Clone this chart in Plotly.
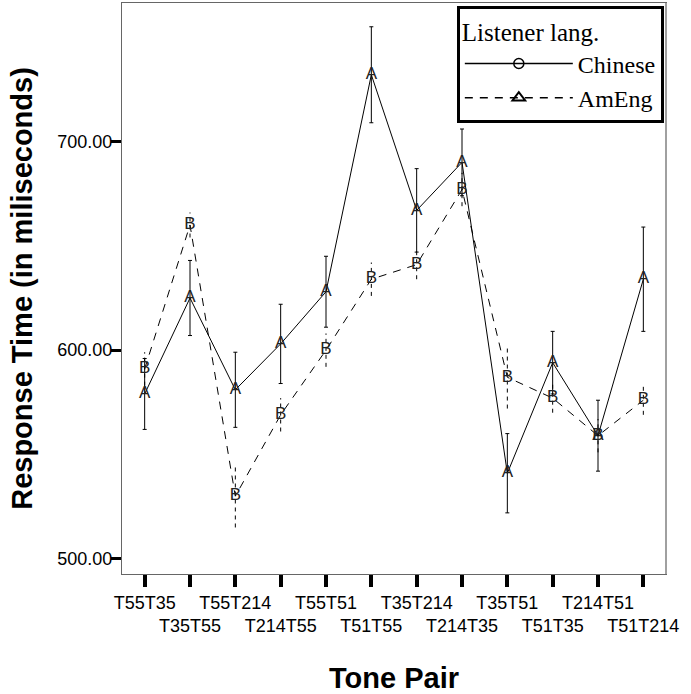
import plotly.graph_objects as go

categories = ["T55T35", "T35T55", "T55T214", "T214T55", "T55T51", "T51T55",
              "T35T214", "T214T35", "T35T51", "T51T35", "T214T51", "T51T214"]
chinese_mean = [579, 625, 581, 603, 628, 732, 667, 690, 541, 594, 559, 634]
chinese_ci = [17, 18, 18, 19, 17, 23, 20, 16, 19, 15, 17, 25]
ameng_mean = [591, 660, 530, 569, 600, 634, 641, 677, 587, 577, 559, 576]
ameng_ci = [8, 6, 15, 8, 8, 8, 7, 8, 15, 7, 8, 7]
y_tick_vals = [500, 600, 700]
y_tick_text = ["500.00", "600.00", "700.00"]
series_names = ["Chinese", "AmEng"]
series_letters = ["A", "B"]
legend_title = "Listener lang."
x_title = "Tone Pair"
y_title = "Response Time (in miliseconds)"

SANS = "Arial, Liberation Sans, sans-serif"
SERIF = "Times New Roman, Liberation Serif, serif"

# two-row tick labels: odd categories on second line
tick_text = [c if i % 2 == 0 else "<br>" + c for i, c in enumerate(categories)]

fig = go.Figure()

# Chinese: solid line, solid error bars, letter A
fig.add_trace(go.Scatter(
    x=categories, y=chinese_mean, mode="lines+text",
    text=[series_letters[0]] * len(categories), textposition="middle center",
    textfont=dict(family=SANS, size=17, color="#222"),
    line=dict(color="black", width=1),
    error_y=dict(type="data", array=chinese_ci, visible=True,
                 color="black", thickness=1, width=2),
    showlegend=False, cliponaxis=False))

# AmEng error bars as dashed segments
ex, ey = [], []
for c, m, e in zip(categories, ameng_mean, ameng_ci):
    ex += [c, c, None]
    ey += [m - e, m + e, None]
fig.add_trace(go.Scatter(x=ex, y=ey, mode="lines",
                         line=dict(color="black", width=1, dash="4px,4px"),
                         showlegend=False, hoverinfo="skip"))

# AmEng: dashed line, letter B
fig.add_trace(go.Scatter(
    x=categories, y=ameng_mean, mode="lines+text",
    text=[series_letters[1]] * len(categories), textposition="middle center",
    textfont=dict(family=SANS, size=17, color="#222"),
    line=dict(color="black", width=1, dash="8px,7px"),
    showlegend=False, cliponaxis=False))

# legend-only entries
fig.add_trace(go.Scatter(x=[None], y=[None], mode="lines+markers", name=series_names[0],
                         line=dict(color="black", width=1.5),
                         marker=dict(symbol="circle-open", size=10, color="black",
                                     line=dict(width=1.5))))
fig.add_trace(go.Scatter(x=[None], y=[None], mode="lines+markers", name=series_names[1],
                         line=dict(color="black", width=1.5, dash="8px,7px"),
                         marker=dict(symbol="triangle-up-open", size=11, color="black",
                                     line=dict(width=2))))

fig.update_layout(
    width=691, height=694,
    margin=dict(l=122, r=25, t=3, b=120, autoexpand=False),
    paper_bgcolor="white", plot_bgcolor="white",
    font=dict(family=SANS, color="black"),
    showlegend=True,
    legend=dict(
        title=dict(text=legend_title, font=dict(family=SERIF, size=25, color="black")),
        font=dict(family=SERIF, size=24, color="black"),
        x=0.996, y=0.995, xanchor="right", yanchor="top",
        bgcolor="white", bordercolor="black", borderwidth=3,
        itemwidth=108, tracegroupgap=0,
    ),
    xaxis=dict(
        type="category", categoryorder="array", categoryarray=categories,
        range=[-0.5, len(categories) - 0.5],
        tickvals=categories, ticktext=tick_text, tickangle=0,
        tickfont=dict(family=SANS, size=18, color="black"),
        ticks="outside", ticklen=12, tickwidth=3.5, tickcolor="black",
        showline=True, linecolor="#666", linewidth=1, mirror=True,
        showgrid=False, zeroline=False, automargin=False,
        title=dict(text="<b>" + x_title + "</b>", font=dict(family=SANS, size=29, color="black"),
                   standoff=34),
    ),
    yaxis=dict(
        range=[492.7, 766.4],
        tickvals=y_tick_vals, ticktext=y_tick_text,
        tickfont=dict(family=SANS, size=18, color="black"),
        ticks="outside", ticklen=10, tickwidth=3, tickcolor="black",
        ticklabelstandoff=-5,
        showline=True, linecolor="#666", linewidth=1, mirror=True,
        showgrid=False, zeroline=False, automargin=False,
        title=dict(text="<b>" + y_title + "</b>", font=dict(family=SANS, size=29, color="black"),
                   standoff=16),
    ),
    shapes=[dict(type="line", xref="paper", yref="paper", x0=1, x1=1, y0=0, y1=1,
                 line=dict(color="#a0a0a0", width=2))],
)

fig.write_html("out.html")
